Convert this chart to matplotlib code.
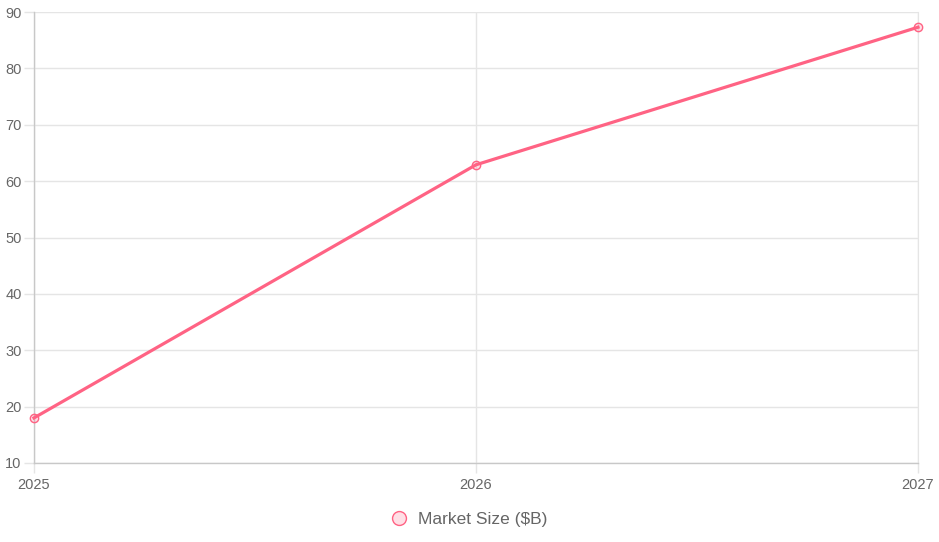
import matplotlib
matplotlib.use("Agg")
import matplotlib.pyplot as plt
from matplotlib.lines import Line2D

years = ["2025", "2026", "2027"]
market_size = [18.0, 62.9, 87.3]
series_label = "Market Size ($B)"
y_ticks = [10, 20, 30, 40, 50, 60, 70, 80, 90]

plt.rcParams['font.family'] = ['Liberation Sans', 'DejaVu Sans']

W, H = 939, 542
fig = plt.figure(figsize=(W / 100, H / 100), dpi=100)
ax = fig.add_axes([34 / W, 1 - 463 / H, (918 - 34) / W, (463 - 12) / H])

line_color = "#ff6384"
x = list(range(len(years)))
ax.plot(x, market_size, color=line_color, linewidth=2.3, solid_joinstyle='round',
        zorder=3, clip_on=False)
ax.plot(x, market_size, linestyle='none', marker='o', markersize=6,
        markerfacecolor=(1, 99 / 255, 132 / 255, 0.2), markeredgecolor=line_color,
        markeredgewidth=1.0, zorder=4, clip_on=False)

ax.set_xlim(0, len(years) - 1)
ax.set_ylim(10, 90)
ax.set_xticks(x)
ax.set_xticklabels(years)
ax.set_yticks(y_ticks)

grid_c = "#e5e5e5"
ax.grid(True, color=grid_c, linewidth=1)
ax.set_axisbelow(True)
for s in ["top"]:
    ax.spines[s].set_visible(False)
ax.spines["right"].set_color(grid_c)
for s in ["left", "bottom"]:
    ax.spines[s].set_color("#c8c8c8")
    ax.spines[s].set_linewidth(1)

ax.tick_params(axis='both', colors=grid_c, labelcolor="#666666", labelsize=10.5, length=7, width=1)
ax.tick_params(axis='x', pad=4)
ax.tick_params(axis='y', pad=2, length=7)

handle = Line2D([], [], linestyle='none', marker='o', markersize=10,
                markerfacecolor=(1, 99 / 255, 132 / 255, 0.2), markeredgecolor=line_color,
                markeredgewidth=1.0)
fig.legend([handle], [series_label], loc='center', bbox_to_anchor=(469 / W, 1 - 519 / H),
           frameon=False, fontsize=12.5, labelcolor="#666666", handletextpad=0.6,
           handlelength=1.0)

fig.savefig("out.png", dpi=100)
